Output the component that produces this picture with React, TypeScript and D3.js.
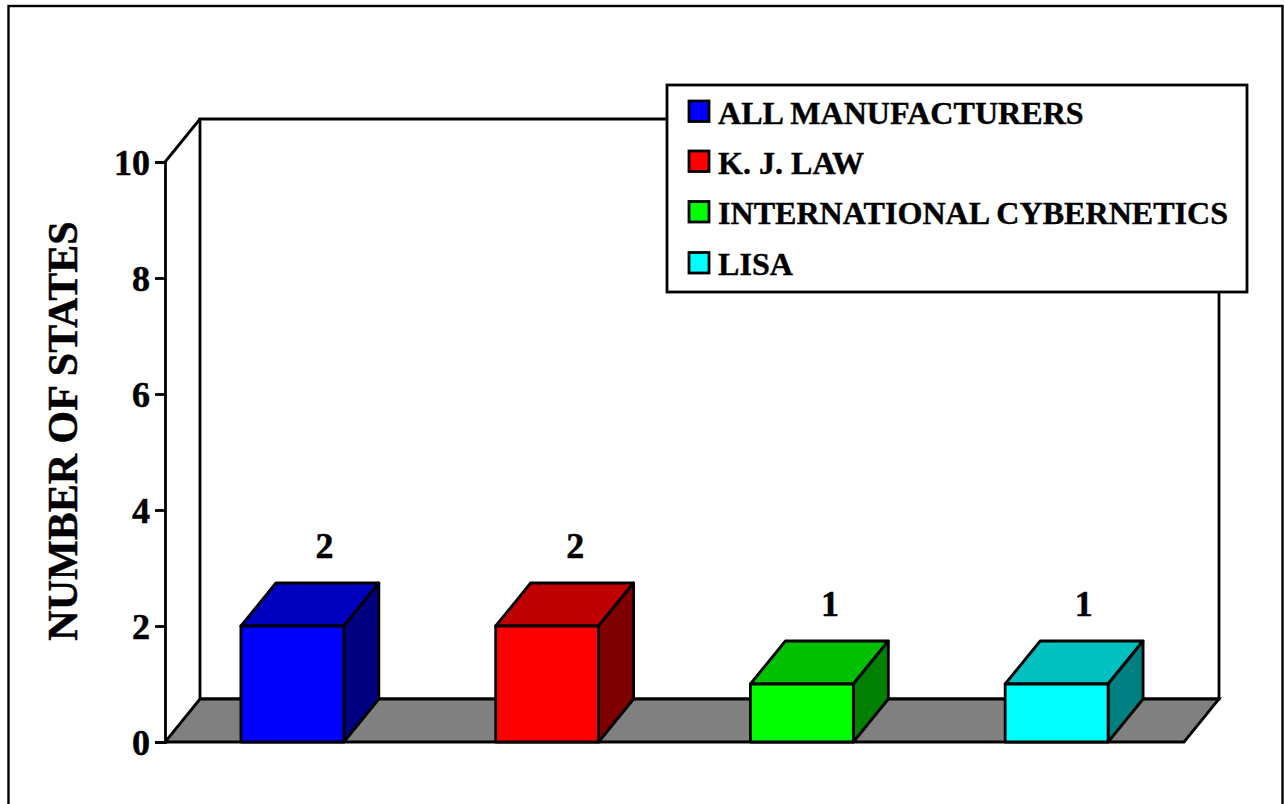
import React, { useEffect, useRef } from "react";
import * as d3 from "d3";

const categories = ["ALL MANUFACTURERS", "K. J. LAW", "INTERNATIONAL CYBERNETICS", "LISA"];
const values = [2, 2, 1, 1];
const yTicks = [0, 2, 4, 6, 8, 10];
const faceColors = ["#0000ff", "#ff0000", "#00ff00", "#00ffff"];
const topColors = ["#0000c0", "#c00000", "#00c000", "#00c0c0"];
const sideColors = ["#000080", "#800000", "#008000", "#008080"];

const FONT = "'Liberation Serif', 'Times New Roman', serif";
const SW = 2.8;

// floor / wall box
const x0 = 165;
const x1 = 1184;
const y0 = 742;
const y1 = 162;
const depthX = 35;
const depthY = 43;

// value labels sit a little right of the bar centre, not evenly in the original
const labelShift = [32, 28, 28, 27];
const legendRows = [123.5, 173.5, 224, 275];

const App = () => {
  const axisRef = useRef<SVGGElement>(null);

  const x = d3.scaleBand<string>().domain(categories).range([x0, x1]).paddingInner(0.596).paddingOuter(0.298);
  const y = d3.scaleLinear().domain([0, 10]).range([y0, y1]);

  useEffect(() => {
    const g = d3.select(axisRef.current);
    g.selectAll("*").remove();
    g.call(d3.axisLeft(y).tickValues(yTicks).tickSize(10).tickPadding(5).tickFormat(d3.format("d")) as any);
    g.select(".domain").attr("stroke", "#000").attr("stroke-width", SW);
    g.selectAll(".tick line").attr("stroke", "#000").attr("stroke-width", SW);
    g.selectAll(".tick text")
      .attr("fill", "#000")
      .attr("stroke", "#000")
      .attr("stroke-width", 0.5)
      .attr("dy", "0.36em")
      .style("font-family", FONT)
      .style("font-weight", "bold")
      .style("font-size", "36px");
  }, []);

  const line = d3.line();
  const poly = (pts: [number, number][]) => line(pts) + "Z";

  return (
    <svg width={1284} height={804} style={{ position: "absolute", left: 0, top: 0, background: "#fff" }}>
      {/* outer frame, runs off the bottom of the page */}
      <rect x={8.5} y={6} width={1274} height={820} fill="none" stroke="#000" strokeWidth={2.4} />

      {/* back walls */}
      <path
        d={poly([
          [x0 + depthX, y1 - depthY],
          [x1 + depthX, y1 - depthY],
          [x1 + depthX, y0 - depthY],
          [x0 + depthX, y0 - depthY],
        ])}
        fill="#fff"
        stroke="#000"
        strokeWidth={SW}
      />
      <path
        d={line([
          [x0, y1],
          [x0 + depthX, y1 - depthY],
        ]) as string}
        fill="none"
        stroke="#000"
        strokeWidth={SW}
      />
      {/* floor */}
      <path
        d={poly([
          [x0, y0],
          [x1, y0],
          [x1 + depthX, y0 - depthY],
          [x0 + depthX, y0 - depthY],
        ])}
        fill="#808080"
        stroke="#000"
        strokeWidth={SW}
      />
      <g ref={axisRef} transform={`translate(${x0},0)`} />

      {/* bars */}
      {categories.map((c, i) => {
        const left = x(c) as number;
        const right = left + x.bandwidth();
        const top = y(values[i]);
        return (
          <g key={c} stroke="#000" strokeWidth={SW} strokeLinejoin="round">
            <path
              d={poly([
                [left, top],
                [right, top],
                [right + depthX, top - depthY],
                [left + depthX, top - depthY],
              ])}
              fill={topColors[i]}
            />
            <path
              d={poly([
                [right, top],
                [right + depthX, top - depthY],
                [right + depthX, y0 - depthY],
                [right, y0],
              ])}
              fill={sideColors[i]}
            />
            <rect x={left} y={top} width={x.bandwidth()} height={y0 - top} fill={faceColors[i]} />
            <text
              x={left + x.bandwidth() / 2 + labelShift[i]}
              y={top - 68.5}
              textAnchor="middle"
              stroke="#000"
              strokeWidth={0.5}
              fill="#000"
              fontFamily={FONT}
              fontWeight="bold"
              fontSize={36}
            >
              {values[i]}
            </text>
          </g>
        );
      })}

      <text
        transform="translate(77,431) rotate(-90)"
        textAnchor="middle"
        stroke="#000"
        strokeWidth={0.5}
        fontFamily={FONT}
        fontWeight="bold"
        fontSize={42}
      >
        NUMBER OF STATES
      </text>

      {/* legend */}
      <rect x={667} y={85} width={580} height={207} fill="#fff" stroke="#000" strokeWidth={SW} />
      {categories.map((c, i) => (
        <g key={c}>
          <rect
            x={689}
            y={legendRows[i] - 22.5}
            width={20}
            height={20.5}
            fill={faceColors[i]}
            stroke="#000"
            strokeWidth={SW}
          />
          <text
            x={718}
            y={legendRows[i]}
            stroke="#000"
            strokeWidth={0.4}
            fontFamily={FONT}
            fontWeight="bold"
            fontSize={32.1}
          >
            {c}
          </text>
        </g>
      ))}
    </svg>
  );
};

export default App;
